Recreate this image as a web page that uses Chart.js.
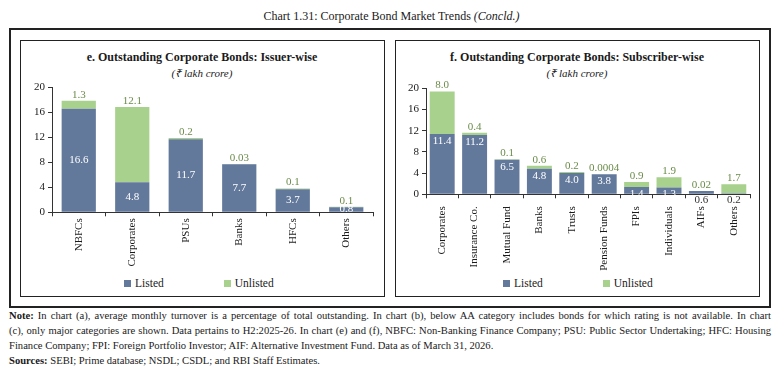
<!DOCTYPE html>
<html>
<head>
<meta charset="utf-8">
<script src="https://cdn.jsdelivr.net/npm/chart.js@4.4.1/dist/chart.umd.min.js"></script>
<style>
  body { margin: 0; width: 779px; height: 373px; background: #fff; position: relative; overflow: hidden;
         font-family: "Liberation Serif", serif; color: #1a1a1a; }
  .abs { position: absolute; }
  .box { position: absolute; box-sizing: border-box; border: 1.5px solid #222; }
  .ttl { position: absolute; text-align: center; white-space: nowrap; }
  .legend { position: absolute; font-size: 11.5px; white-space: nowrap; line-height: 12px; }
  .legend span.sw { display: inline-block; width: 7px; height: 7px; margin-right: 4px; vertical-align: 0px; }
  .note { position: absolute; left: 9px; width: 762px; font-size: 10.6px; line-height: 15px; white-space: nowrap; }
  .just { text-align: justify; text-align-last: justify; }
</style>
</head>
<body>
<div class="ttl" style="left:2px;width:779px;top:8px;font-size:12px;line-height:16px;">Chart 1.31: Corporate Bond Market Trends <i>(Concld.)</i></div>
<div class="box" style="left:9px;top:28px;width:762px;height:280px;border-width:2px;"></div>
<div class="box" style="left:20px;top:40px;width:365px;height:257px;"></div>
<div class="box" style="left:395px;top:40px;width:365px;height:257px;"></div>

<div class="ttl" style="left:20px;width:364px;top:49px;font-size:12px;font-weight:bold;line-height:16px;">e. Outstanding Corporate Bonds: Issuer-wise</div>
<div class="ttl" style="left:20px;width:364px;top:66px;font-size:11px;font-style:italic;line-height:14px;">(₹ lakh crore)</div>
<div class="ttl" style="left:395px;width:364px;top:49px;font-size:12px;font-weight:bold;line-height:16px;">f. Outstanding Corporate Bonds: Subscriber-wise</div>
<div class="ttl" style="left:395px;width:364px;top:66px;font-size:11px;font-style:italic;line-height:14px;">(₹ lakh crore)</div>

<canvas id="issuer" class="abs" style="left:20px;top:78px;"></canvas>
<canvas id="subscriber" class="abs" style="left:395px;top:78px;"></canvas>

<div id="legIssuer" class="legend" style="left:124px;top:277px;"></div>
<div id="legSubscriber" class="legend" style="left:503px;top:277px;"></div>

<div class="note just" style="top:308px;"><b>Note:</b> In chart (a), average monthly turnover is a percentage of total outstanding. In chart (b), below AA category includes bonds for which rating is not available. In chart</div>
<div class="note just" style="top:323px;">(c), only major categories are shown. Data pertains to H2:2025-26. In chart (e) and (f), NBFC: Non-Banking Finance Company; PSU: Public Sector Undertaking; HFC: Housing</div>
<div class="note" style="top:338px;">Finance Company; FPI: Foreign Portfolio Investor; AIF: Alternative Investment Fund. Data as of March 31, 2026.</div>
<div class="note" style="top:353px;"><b>Sources:</b> SEBI; Prime database; NSDL; CSDL; and RBI Staff Estimates.</div>

<script>
// chart e: issuer-wise
const issuerCats = ["NBFCs", "Corporates", "PSUs", "Banks", "HFCs", "Others"];
const issuerListed = [16.6, 4.8, 11.7, 7.7, 3.7, 0.8];
const issuerUnlisted = [1.3, 12.1, 0.2, 0.03, 0.1, 0.1];

// chart f: subscriber-wise
const subscriberCats = ["Corporates", "Insurance Co.", "Mutual Fund", "Banks", "Trusts",
  "Pension Funds", "FPIs", "Individuals", "AIFs", "Others"];
const subscriberListed = [11.4, 11.2, 6.5, 4.8, 4.0, 3.8, 1.4, 1.3, 0.6, 0.2];
const subscriberUnlisted = [8.0, 0.4, 0.1, 0.6, 0.2, 0.0004, 0.9, 1.9, 0.02, 1.7];

const yTicks = [0, 4, 8, 12, 16, 20];
const seriesNames = ["Listed", "Unlisted"];

const LISTED = "#63799c";
const UNLISTED = "#a9d18e";
const AXIS = "#333";
const FONT = '"Liberation Serif", serif';

function fmt(v) {
  return v >= 0.1 ? v.toFixed(1) : String(v);
}

// value labels: listed inside bar (center or top), unlisted just above the stack
const valueLabels = {
  id: "valueLabels",
  afterDatasetsDraw(chart, args, opts) {
    const ctx = chart.ctx;
    ctx.save();
    ctx.font = "11px " + FONT;
    ctx.textAlign = "center";
    ctx.textBaseline = "middle";
    chart.data.datasets.forEach((ds, i) => {
      const meta = chart.getDatasetMeta(i);
      meta.data.forEach((bar, j) => {
        const txt = fmt(ds.data[j]);
        if (i === 0) {
          ctx.fillStyle = "#fff";
          let y = opts.listedPos === "center" ? (bar.y + bar.base) / 2 : bar.y + 7;
          if (opts.listedPos !== "center" && bar.base - bar.y < 6) {
            // too small to hold the label: it sits under the axis
            ctx.fillStyle = "#333";
            y = bar.base + 6;
          }
          ctx.fillText(txt, bar.x, y);
        } else {
          ctx.fillStyle = "#6b8c4a";
          ctx.fillText(txt, bar.x, bar.y - 6);
        }
      });
    });
    ctx.restore();
  }
};

function makeChart(id, cats, listed, unlisted, cfg) {
  const canvas = document.getElementById(id);
  canvas.width = 364;
  canvas.height = 196;
  return new Chart(canvas, {
    type: "bar",
    data: {
      labels: cats,
      datasets: [
        { label: seriesNames[0], data: listed, backgroundColor: LISTED },
        { label: seriesNames[1], data: unlisted, backgroundColor: UNLISTED }
      ]
    },
    options: {
      responsive: false,
      animation: false,
      events: [],
      barPercentage: cfg.barPct,
      categoryPercentage: 1,
      layout: { padding: { left: 0, right: cfg.padRight, top: cfg.padTop, bottom: 0 } },
      plugins: {
        legend: { display: false },
        tooltip: { enabled: false },
        valueLabels: { listedPos: cfg.listedPos }
      },
      scales: {
        x: {
          stacked: true,
          grid: { drawOnChartArea: false, offset: true, tickLength: 4, color: AXIS },
          border: { color: AXIS, width: 1 },
          ticks: { color: "#1a1a1a", font: { family: FONT, size: 11 }, minRotation: 90, maxRotation: 90,
                   autoSkip: false, padding: cfg.xPad },
          afterFit: s => { s.height = cfg.xHeight; }
        },
        y: {
          stacked: true,
          min: 0,
          max: 20,
          afterBuildTicks: s => { s.ticks = yTicks.map(v => ({ value: v })); },
          grid: { drawOnChartArea: false, tickLength: 4, color: AXIS },
          border: { color: AXIS, width: 1 },
          ticks: { color: "#1a1a1a", font: { family: FONT, size: 11 }, padding: 3 },
          afterFit: s => { s.width = cfg.yWidth; }
        }
      }
    },
    plugins: [valueLabels]
  });
}

function legend(id) {
  const el = document.getElementById(id);
  const colors = [LISTED, UNLISTED];
  el.innerHTML = seriesNames.map((n, i) =>
    '<span class="sw" style="background:' + colors[i] + '"></span>' + n
  ).join('<span style="display:inline-block;width:60px"></span>');
}

makeChart("issuer", issuerCats, issuerListed, issuerUnlisted,
  { barPct: 0.64, padRight: 11, padTop: 9, yWidth: 32, xHeight: 61.7, xPad: 2, listedPos: "center" });
makeChart("subscriber", subscriberCats, subscriberListed, subscriberUnlisted,
  { barPct: 0.77, padRight: 9, padTop: 10.3, yWidth: 31, xHeight: 79.7, xPad: 8, listedPos: "top" });
legend("legIssuer");
legend("legSubscriber");
</script>
</body>
</html>
